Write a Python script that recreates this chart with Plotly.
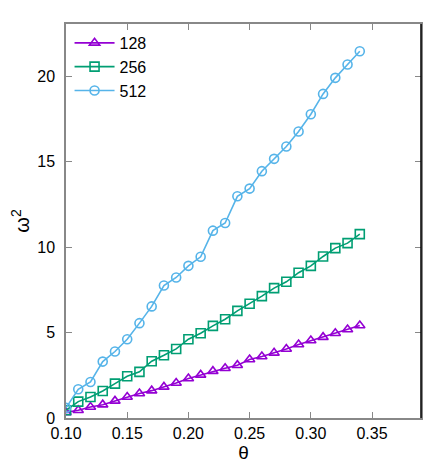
import plotly.graph_objects as go

theta = [0.10, 0.11, 0.12, 0.13, 0.14, 0.15, 0.16, 0.17, 0.18, 0.19, 0.20, 0.21, 0.22,
         0.23, 0.24, 0.25, 0.26, 0.27, 0.28, 0.29, 0.30, 0.31, 0.32, 0.33, 0.34]

w2_128 = [0.33, 0.45, 0.64, 0.78, 1.00, 1.23, 1.43, 1.60, 1.82, 2.05, 2.31, 2.52, 2.74,
          2.91, 3.09, 3.42, 3.60, 3.81, 4.04, 4.30, 4.53, 4.73, 4.96, 5.18, 5.41]
w2_256 = [0.45, 0.96, 1.23, 1.58, 2.01, 2.44, 2.70, 3.32, 3.67, 4.04, 4.61, 4.96, 5.39,
          5.78, 6.27, 6.68, 7.13, 7.60, 7.97, 8.50, 8.90, 9.45, 9.94, 10.23, 10.76]
w2_512 = [0.59, 1.68, 2.11, 3.30, 3.89, 4.61, 5.55, 6.53, 7.75, 8.22, 8.90, 9.43, 10.96,
          11.41, 12.97, 13.42, 14.44, 15.16, 15.88, 16.76, 17.77, 18.96, 19.90, 20.68, 21.46]

series = [
    ("128", w2_128, "#9400D3", "triangle-up-open"),
    ("256", w2_256, "#009E73", "square-open"),
    ("512", w2_512, "#56B4E9", "circle-open"),
]

xticks = [0.10, 0.15, 0.20, 0.25, 0.30, 0.35]
xticklabels = ["0.10", "0.15", "0.20", "0.25", "0.30", "0.35"]
yticks = [0, 5, 10, 15, 20]

fig = go.Figure()
for name, ys, color, sym in series:
    fig.add_trace(go.Scatter(
        x=theta, y=ys, name=name, mode="lines+markers",
        line=dict(color=color, width=1.6),
        marker=dict(symbol=sym, size=9, color=color, line=dict(width=1.6, color=color)),
    ))

axis_color = "#888888"
fig.update_layout(
    width=442, height=463,
    margin=dict(l=58, r=29, t=16, b=53, autoexpand=False),
    paper_bgcolor="white", plot_bgcolor="white",
    font=dict(family="Liberation Sans, Arial, sans-serif", size=16, color="black"),
    showlegend=True,
    legend=dict(x=0.01, y=0.995, xanchor="left", yanchor="top",
                bgcolor="rgba(0,0,0,0)", font=dict(size=16),
                tracegroupgap=0, itemwidth=40),
    xaxis=dict(
        range=[0.10, 0.39], tickmode="array", tickvals=xticks, ticktext=xticklabels,
        ticks="inside", ticklen=6, tickcolor=axis_color, tickwidth=1,
        showline=True, linecolor=axis_color, linewidth=1.5, mirror="allticks",
        showgrid=False, zeroline=False, automargin=False,
        title=dict(text="θ", font=dict(size=19), standoff=0),
    ),
    yaxis=dict(
        range=[0, 23.05], tickmode="array", tickvals=yticks,
        ticks="inside", ticklen=6, tickcolor=axis_color, tickwidth=1,
        showline=True, linecolor=axis_color, linewidth=1.5, mirror="allticks",
        showgrid=False, zeroline=False, ticklabelstandoff=6, automargin=False,
        title=dict(text="ω<sup>2</sup>", font=dict(size=20), standoff=14),
    ),
    shapes=[dict(type="line", xref="paper", yref="paper", x0=1, x1=1, y0=0, y1=1,
                 line=dict(color="black", width=1.5), layer="above")],
)

fig.write_html("out.html")
